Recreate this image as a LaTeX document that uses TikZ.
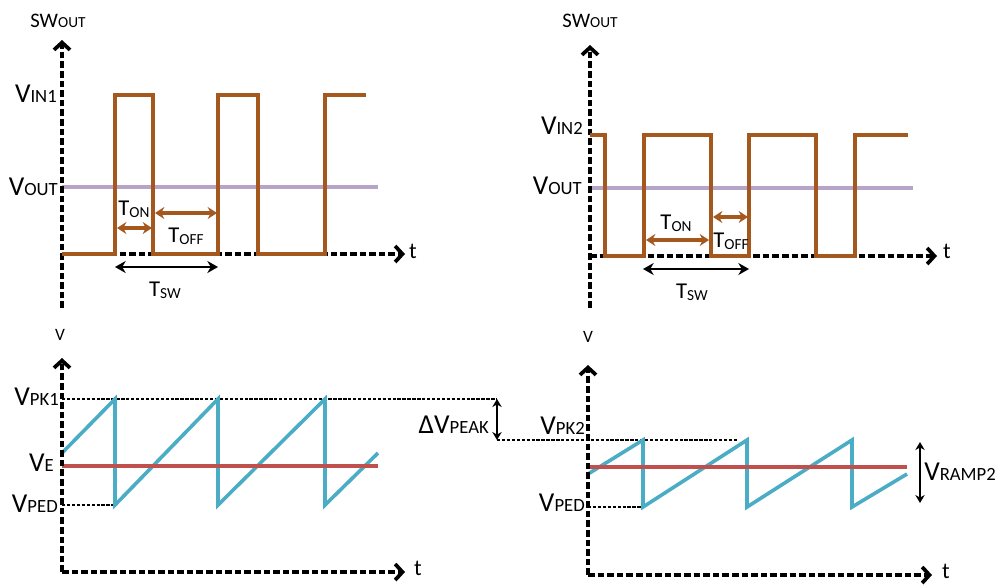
\documentclass[tikz,border=0pt]{standalone}
\usepackage{fontspec}
\setmainfont{Carlito}
\usepackage{tikz}
\usetikzlibrary{arrows.meta}
\definecolor{swbrown}{RGB}{165,88,30}
\definecolor{voutline}{RGB}{182,165,200}
\definecolor{rampline}{RGB}{75,172,198}
\definecolor{errline}{RGB}{192,80,77}
% level labels (V...) and time labels (T...)
\newcommand{\sig}[2]{{\fontsize{20.5}{24}\selectfont #1}{\fontsize{14}{16}\selectfont #2}}
\newcommand{\tsig}[2]{{\fontsize{17}{20}\selectfont #1}\raisebox{-1.2pt}{\fontsize{11.5}{13}\selectfont #2}}
\newcommand{\axlbl}[2]{{\fontsize{15.5}{18}\selectfont #1}{\fontsize{11.5}{13}\selectfont #2}}
\tikzset{
  axis/.style={line width=3pt, dash pattern=on 5pt off 2.2pt,
    -{Straight Barb[length=5.5pt,width=12pt,line width=2.8pt]}},
  swave/.style={swbrown, line width=3.4pt, line join=miter},
  ramp/.style={rampline, line width=2.7pt, line join=miter},
  verror/.style={errline, line width=3.4pt},
  voutlvl/.style={voutline, line width=3.2pt},
  refline/.style={line width=1pt, dash pattern=on 2.5pt off 1.2pt},
  tarrow/.style={swbrown, line width=2.6pt,
    {Stealth[length=7pt,width=9pt]}-{Stealth[length=7pt,width=9pt]}},
  barrow/.style={line width=2pt,
    {Stealth[length=8pt,width=9pt]}-{Stealth[length=8pt,width=9pt]}},
  varrow/.style={line width=1.3pt,
    {Stealth[length=6pt,width=7pt]}-{Stealth[length=6pt,width=7pt]}},
  lbl/.style={inner sep=0.75pt}
}
\begin{document}
\begin{tikzpicture}[x=0.75pt,y=0.75pt,yscale=-1,xscale=1]
\useasboundingbox (0,0) rectangle (1005,587);

%%%%%%%% top left: switch node, VIN1
% axes
\coordinate (o1) at (62,254);
\coordinate (y1) at (62,40);
\coordinate (y1b) at (62,308);
\coordinate (x1) at (405,254);
\draw [voutlvl] (62,187) -- (378,187);
\draw [axis] (y1b) -- (y1);
\draw [axis] (o1) -- (x1);
% square wave
\draw [swave] (o1) -- (115,254) -- (115,95) -- (153,95) -- (153,254) -- (218,254) -- (218,95) -- (258,95) -- (258,254) -- (325,254) -- (325,95) -- (366,95);
% time arrows
\coordinate (on1a) at (117,228);
\coordinate (on1b) at (152,228);
\coordinate (off1a) at (155,213);
\coordinate (off1b) at (217,213);
\coordinate (sw1a) at (115,267);
\coordinate (sw1b) at (218,267);
\draw [tarrow] (on1a) -- (on1b);
\draw [tarrow] (off1a) -- (off1b);
\draw [barrow] (sw1a) -- (sw1b);
% Text Node
\node [lbl] (swout1) at (58,21) {\axlbl{SW}{OUT}};
\node [lbl, anchor=east] (vin1) at (58,94) {\sig{V}{IN1}};
\node [lbl, anchor=east] (vout1) at (59,187) {\sig{V}{OUT}};
\node [lbl] (ton1) at (134,209) {\tsig{T}{ON}};
\node [lbl] (toff1) at (186,236) {\tsig{T}{OFF}};
\node [lbl] (tsw1) at (165,290) {\tsig{T}{SW}};
\node [lbl] (t1) at (413,251) {\fontsize{17}{20}\selectfont t};

%%%%%%%% top right: switch node, VIN2
% axes
\coordinate (o2) at (590,256);
\coordinate (y2) at (590,45);
\coordinate (y2b) at (590,308);
\coordinate (x2) at (937,256);
\draw [voutlvl] (590,188) -- (913,188);
\draw [axis] (y2b) -- (y2);
\draw [axis] (o2) -- (x2);
% square wave
\draw [swave] (590,135) -- (605,135) -- (605,256) -- (644,256) -- (644,135) -- (711,135) -- (711,256) -- (749,256) -- (749,135) -- (816,135) -- (816,256) -- (855,256) -- (855,135) -- (908,135);
% time arrows
\coordinate (on2a) at (646,240);
\coordinate (on2b) at (709,240);
\coordinate (off2a) at (713,217);
\coordinate (off2b) at (748,217);
\coordinate (sw2a) at (643,269);
\coordinate (sw2b) at (749,269);
\draw [tarrow] (on2a) -- (on2b);
\draw [tarrow] (off2a) -- (off2b);
\draw [barrow] (sw2a) -- (sw2b);
% Text Node
\node [lbl] (swout2) at (590,21) {\axlbl{SW}{OUT}};
\node [lbl, anchor=east] (vin2) at (584,126) {\sig{V}{IN2}};
\node [lbl, anchor=east] (vout2) at (583,186) {\sig{V}{OUT}};
\node [lbl] (ton2) at (676,223) {\tsig{T}{ON}};
\node [lbl] (toff2) at (731,241) {\tsig{T}{OFF}};
\node [lbl] (tsw2) at (692,292) {\tsig{T}{SW}};
\node [lbl] (t2) at (947,251) {\fontsize{17}{20}\selectfont t};

%%%%%%%% bottom left: ramp 1
% axes
\coordinate (o3) at (62,572);
\coordinate (y3) at (62,358);
\coordinate (x3) at (405,572);
\coordinate (pk1) at (62,399);
\coordinate (pk1r) at (497,399);
\coordinate (pk2l) at (497,440);
\coordinate (pk2r) at (737,440);
\coordinate (ped1) at (62,505);
\coordinate (ped1r) at (115,505);
\draw [refline] (pk1) -- (pk1r);
\draw [refline] (pk2l) -- (pk2r);
\draw [refline] (ped1) -- (ped1r);
\draw [varrow] (pk1r) -- (pk2l);
% sawtooth
\draw [ramp] (62,453) -- (115,399) -- (115,505) -- (218,399) -- (218,505) -- (325,399) -- (325,505) -- (378,453);
\draw [verror] (62,466) -- (378,466);
\draw [axis] (o3) -- (y3);
\draw [axis] (o3) -- (x3);
% Text Node
\node [lbl] (v3) at (60,335) {\fontsize{13}{15}\selectfont V};
\node [lbl, anchor=east] (vpk1) at (60,397) {\sig{V}{PK1}};
\node [lbl, anchor=east] (ve1) at (55,463) {\sig{V}{E}};
\node [lbl, anchor=east] (vped1) at (59,504) {\sig{V}{PED}};
\node [lbl, anchor=east] (dvpk) at (490,425) {\sig{ΔV}{PEAK}};
\node [lbl] (t3) at (418,568) {\fontsize{17}{20}\selectfont t};

%%%%%%%% bottom right: ramp 2
% axes
\coordinate (o4) at (588,575);
\coordinate (y4) at (588,365);
\coordinate (x4) at (932,575);
\coordinate (ped2) at (588,507);
\coordinate (ped2r) at (643,507);
\coordinate (rmp2a) at (920,442);
\coordinate (rmp2b) at (920,503);
\draw [refline] (ped2) -- (ped2r);
\draw [varrow] (rmp2a) -- (rmp2b);
% sawtooth
\draw [ramp] (588,474) -- (643,440) -- (643,507) -- (747,440) -- (747,507) -- (852,440) -- (852,507) -- (907,474);
\draw [verror] (588,467) -- (907,467);
\draw [axis] (o4) -- (y4);
\draw [axis] (o4) -- (x4);
% Text Node
\node [lbl] (v4) at (588,337) {\fontsize{13}{15}\selectfont V};
\node [lbl, anchor=east] (vpk2) at (586,426) {\sig{V}{PK2}};
\node [lbl, anchor=east] (vped2) at (586,503) {\sig{V}{PED}};
\node [lbl, anchor=west] (vrmp2) at (923,472) {\sig{V}{RAMP2}};
\node [lbl] (t4) at (946,571) {\fontsize{17}{20}\selectfont t};

\end{tikzpicture}
\end{document}
